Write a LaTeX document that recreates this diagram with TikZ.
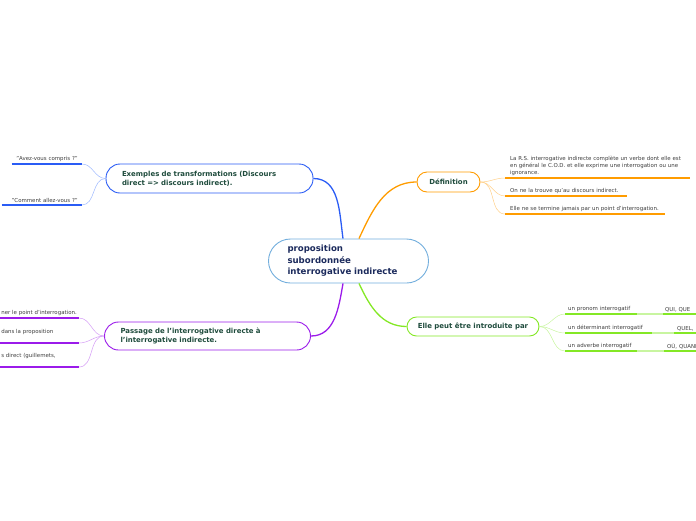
\documentclass[tikz,border=0pt]{standalone}
\usepackage{fontspec}
\setmainfont{DejaVu Sans}
\definecolor{cborder}{HTML}{72AEDD}
\definecolor{cnavy}{HTML}{1B2A5C}
\definecolor{ntext}{HTML}{1E4B3C}
\definecolor{ltext}{HTML}{3C3C3C}
\definecolor{mblue}{HTML}{2A5CF5}
\definecolor{lblue}{HTML}{9DB8FF}
\definecolor{morange}{HTML}{FF9C00}
\definecolor{lorange}{HTML}{FFD08A}
\definecolor{mgreen}{HTML}{84E825}
\definecolor{lgreen}{HTML}{C8F5A0}
\definecolor{mpurple}{HTML}{9B1BEA}
\definecolor{lpurple}{HTML}{D49BF5}

\begin{document}
\begin{tikzpicture}[x=1pt, y=-1pt, every node/.style={font=\fontsize{5.45}{7}\selectfont}]
    \tikzset{topic/.style={draw, fill=white, line width=0.9pt, text=ntext, font=\bfseries\fontsize{6.95}{9}\selectfont},
             leaf/.style={inner xsep=4pt, inner ysep=2pt, align=left, text=ltext},
             branch/.style={line width=1.3pt},
             twig/.style={line width=0.5pt},
             uline/.style={line width=1.5pt}}
    \useasboundingbox (0,0) rectangle (696,520);
    % centre
    \node[topic, draw=cborder, text=cnavy, rounded corners=22pt, minimum height=44pt, text width=122pt, inner xsep=19pt, align=left,
          font=\bfseries\fontsize{8.6}{11.5}\selectfont] (c) at (348.5,261) {proposition\\subordonnée\\interrogative indirecte};
    % main topics
    \node[topic, draw=mblue, rounded corners=14pt, minimum height=29pt, text width=175pt, inner xsep=16pt, align=left] (ex) at (209.5,178.5)
          {Exemples de transformations (Discours\\direct => discours indirect).};
    \node[topic, draw=morange, rounded corners=10pt, minimum height=20pt, minimum width=63pt] (def) at (448.5,182) {Définition};
    \node[topic, draw=mgreen, rounded corners=9.5pt, minimum height=19pt, minimum width=132pt] (el) at (473,326.5) {Elle peut être introduite par};
    \node[topic, draw=mpurple, rounded corners=14pt, minimum height=28pt, text width=174pt, inner xsep=16pt, align=left] (pa) at (207.5,336)
          {Passage de l'interrogative directe à\\l'interrogative indirecte.};
    \draw[branch, mblue] ([xshift=-5.5pt]c.north) to[out=98, in=0] (ex.east);
    \draw[branch, morange] ([xshift=10.5pt]c.north) to[out=65, in=180] (def.west);
    \draw[branch, mpurple] ([xshift=-5.5pt]c.south) to[out=-100, in=0] (pa.east);
    \draw[branch, mgreen] ([xshift=10.5pt]c.south) to[out=-65, in=180] (el.west);
    % examples
    \node[leaf, anchor=south east, text width=62pt, align=right] (e1) at (82,164) {"Avez-vous compris ?"};
    \node[leaf, anchor=south east, text width=72pt, align=right] (e2) at (82,205) {"Comment allez-vous ?"};
    \draw[uline, mblue] (e1.south west) -- (e1.south east);
    \draw[uline, mblue] (e2.south west) -- (e2.south east);
    \draw[twig, lblue] (ex.west) to[out=180, in=0] (e1.south east);
    \draw[twig, lblue] (ex.west) to[out=180, in=0] (e2.south east);
    % definition
    \node[leaf, anchor=south west, text width=175pt, inner xsep=5pt] (d1) at (505,178)
          {La R.S. interrogative indirecte complète un verbe dont elle est\\en général le C.O.D. et elle exprime une interrogation ou une\\ignorance.};
    \node[leaf, anchor=south west, text width=112pt, inner xsep=5pt] (d2) at (505,196) {\mbox{On ne la trouve qu'au discours indirect.}};
    \node[leaf, anchor=south west, text width=150pt, inner xsep=5pt] (d3) at (505,214) {Elle ne se termine jamais par un point d'interrogation.};
    \draw[uline, morange] (d1.south west) -- (d1.south east);
    \draw[uline, morange] (d2.south west) -- (d2.south east);
    \draw[uline, morange] (d3.south west) -- (d3.south east);
    \draw[twig, lorange] (def.east) to[out=0, in=180] (d1.south west);
    \draw[twig, lorange] (def.east) to[out=0, in=180] (d2.south west);
    \draw[twig, lorange] (def.east) to[out=0, in=180] (d3.south west);
    % introduite par
    \node[leaf, anchor=south west, text width=66pt, inner xsep=3pt] (g1) at (565,314) {un pronom interrogatif};
    \node[leaf, anchor=south west, text width=81pt, inner xsep=3pt] (g2) at (565,333) {un déterminant interrogatif};
    \node[leaf, anchor=south west, text width=66pt, inner xsep=3pt] (g3) at (565,351) {un adverbe interrogatif};
    \node[leaf, anchor=south west, text width=40pt, inner xsep=2pt] (q1) at (663,314) {QUI, QUE};
    \node[leaf, anchor=south west, text width=30pt, inner xsep=3pt] (q2) at (674,333) {QUEL,};
    \node[leaf, anchor=south west, text width=40pt, inner xsep=3pt] (q3) at (664,351) {OÙ, QUAND};
    \draw[uline, mgreen] (g1.south west) -- (g1.south east) (g2.south west) -- (g2.south east) (g3.south west) -- (g3.south east);
    \draw[uline, mgreen] (q1.south west) -- (q1.south east) (q2.south west) -- (q2.south east) (q3.south west) -- (q3.south east);
    \draw[twig, lgreen] (el.east) to[out=0, in=180] (g1.south west);
    \draw[twig, lgreen] (el.east) to[out=0, in=180] (g2.south west);
    \draw[twig, lgreen] (el.east) to[out=0, in=180] (g3.south west);
    \draw[uline, lgreen] (g1.south east) -- (q1.south west) (g2.south east) -- (q2.south west) (g3.south east) -- (q3.south west);
    % passage
    \node[leaf, anchor=south east, text width=76pt, inner xsep=1.5pt] (p1) at (79,318) {ner le point d'interrogation.};
    \node[leaf, anchor=south east, text width=76pt, inner xsep=1.5pt] (p2) at (79,343) {dans la proposition\\\mbox{}};
    \node[leaf, anchor=south east, text width=76pt, inner xsep=1.5pt] (p3) at (79,367) {s direct (guillemets,\\\mbox{}};
    \draw[uline, mpurple] (p1.south west) -- (p1.south east);
    \draw[uline, mpurple] (p2.south west) -- (p2.south east);
    \draw[uline, mpurple] (p3.south west) -- (p3.south east);
    \draw[twig, lpurple] (pa.west) to[out=180, in=0] (p1.south east);
    \draw[twig, lpurple] (pa.west) to[out=180, in=0] (p2.south east);
    \draw[twig, lpurple] (pa.west) to[out=180, in=0] (p3.south east);
\end{tikzpicture}
\end{document}
